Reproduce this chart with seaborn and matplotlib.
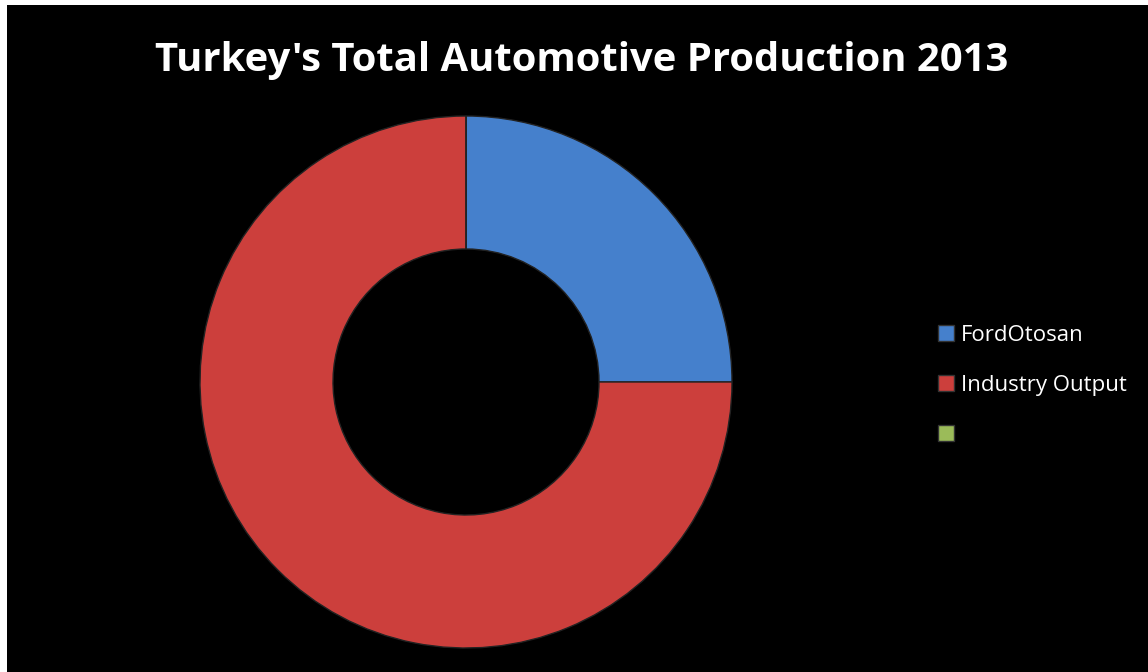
import matplotlib
matplotlib.use("Agg")
import matplotlib.pyplot as plt
from matplotlib.patches import Rectangle, Patch
import seaborn as sns

categories = ["FordOtosan", "Industry Output", ""]
values = [25, 75, 0]
colors = ["#4580cc", "#cc3f3c", "#9bbb59"]
title = "Turkey's Total Automotive Production 2013"

sns.set_theme(style="white")
plt.rcParams['font.family'] = ['Open Sans', 'DejaVu Sans']

W, H = 1148, 672
fig = plt.figure(figsize=(W / 100, H / 100), dpi=100)
fig.patch.set_facecolor("black")
fig.patches.append(Rectangle((0, 0), 7 / W, 1, transform=fig.transFigure,
                             facecolor="white", edgecolor="none", zorder=-1))
fig.patches.append(Rectangle((0, 1 - 5 / H), 1, 5 / H, transform=fig.transFigure,
                             facecolor="white", edgecolor="none", zorder=-1))

cx, cy, r = 466, 382, 266
ax = fig.add_axes([(cx - r) / W, 1 - (cy + r) / H, 2 * r / W, 2 * r / H])
ax.set_facecolor("none")
wedges, _ = ax.pie(values, colors=colors, startangle=90, counterclock=False, radius=1,
                   wedgeprops=dict(width=0.5, edgecolor="#222222", linewidth=1))
ax.set_xlim(-1, 1)
ax.set_ylim(-1, 1)
ax.axis("off")

fig.text(582 / W, 1 - 61 / H, title, ha="center", va="center", color="white",
         fontsize=28.8, fontweight="bold")

handles = [Patch(facecolor=c, edgecolor="#333333") for c in colors]
leg = fig.legend(handles, categories, loc="upper left", bbox_to_anchor=(918 / W, 1 - 305 / H),
                 frameon=False, fontsize=16, labelcolor="white", labelspacing=1.3,
                 handlelength=0.7, handleheight=0.7, handletextpad=0.35)

fig.savefig("out.png", dpi=100, facecolor=fig.get_facecolor())
